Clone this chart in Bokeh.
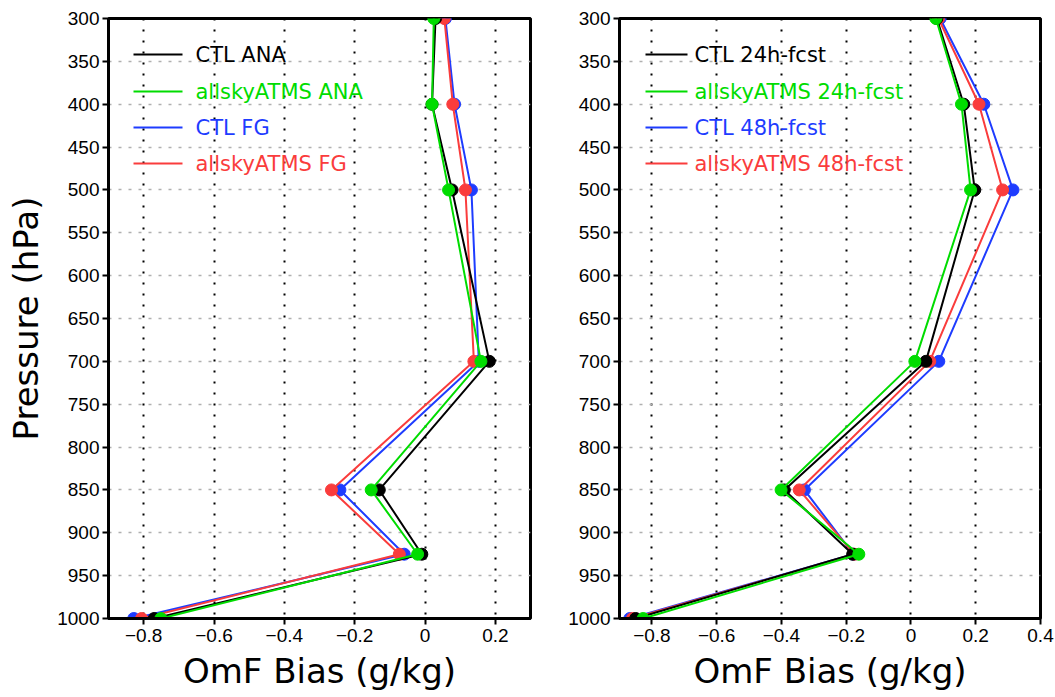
from bokeh.plotting import figure
from bokeh.models import Range1d, FixedTicker
from bokeh.layouts import row
from bokeh.embed import file_html
from bokeh.resources import INLINE
from bokeh.core.properties import value

# ---------------- data ----------------
levels = [300, 400, 500, 700, 850, 925, 1000]

# left panel: analysis / first guess
ctl_ana = [0.030, 0.020, 0.077, 0.183, -0.130, -0.009, -0.770]
sky_ana = [0.025, 0.020, 0.067, 0.159, -0.153, -0.021, -0.751]
ctl_fg = [0.058, 0.084, 0.132, 0.153, -0.242, -0.059, -0.828]
sky_fg = [0.055, 0.079, 0.115, 0.139, -0.266, -0.073, -0.806]
left_names = ["CTL ANA", "allskyATMS ANA", "CTL FG", "allskyATMS FG"]

# right panel: forecasts
ctl_24 = [0.080, 0.163, 0.197, 0.046, -0.391, -0.180, -0.850]
sky_24 = [0.077, 0.156, 0.184, 0.012, -0.401, -0.161, -0.827]
ctl_48 = [0.090, 0.225, 0.315, 0.086, -0.329, -0.178, -0.868]
sky_48 = [0.085, 0.210, 0.283, 0.058, -0.345, -0.175, -0.860]
right_names = ["CTL 24h-fcst", "allskyATMS 24h-fcst", "CTL 48h-fcst", "allskyATMS 48h-fcst"]

left_xticks = [-0.8, -0.6, -0.4, -0.2, 0, 0.2]
right_xticks = [-0.8, -0.6, -0.4, -0.2, 0, 0.2, 0.4]
yticks = [300, 350, 400, 450, 500, 550, 600, 650, 700, 750, 800, 850, 900, 950, 1000]

colors = ["#000000", "#00dc00", "#1e3cff", "#fa3c3c"]
draw_order = [2, 3, 0, 1]

x_title = "OmF Bias (g/kg)"
y_title = "Pressure (hPa)"

TICK_FONT = "Liberation Sans"
TITLE_FONT = "DejaVu Sans"

FRAME_H = 600
YMIN, YMAX = 300, 1000


def ypix_to_data(py):
    # py: pixels from frame top
    return YMIN + py / FRAME_H * (YMAX - YMIN)


def make_panel(series, names, xr, xticks, frame_w, border_l, border_r,
               leg_line, leg_text_x, with_ytitle):
    width = border_l + frame_w + border_r
    p = figure(width=width, height=697,
               x_range=Range1d(*xr), y_range=Range1d(YMAX, YMIN),
               output_backend="svg", toolbar_location=None,
               min_border_left=border_l, min_border_right=border_r,
               min_border_top=18, min_border_bottom=79)
    p.background_fill_color = "white"
    p.border_fill_color = "white"
    p.outline_line_color = "black"
    p.outline_line_width = 3

    span = xr[1] - xr[0]

    def xpix(px):
        return xr[0] + px / frame_w * span

    # axes
    p.xaxis.ticker = FixedTicker(ticks=xticks)
    p.yaxis.ticker = FixedTicker(ticks=yticks)
    p.xaxis.major_label_overrides = {t: (("%g" % t).replace("-", "\u2212")) for t in xticks}
    for ax in (p.xaxis[0], p.yaxis[0]):
        ax.axis_line_width = 3
        ax.axis_line_color = "black"
        ax.major_tick_line_width = 2
        ax.major_tick_in = 0
        ax.major_tick_out = 6
        ax.minor_tick_line_color = None
        ax.major_label_text_font = TICK_FONT
        ax.major_label_text_font_size = "19px"
        ax.major_label_text_color = "black"
        ax.axis_label_text_font = TITLE_FONT
        ax.axis_label_text_font_size = "34px"
        ax.axis_label_text_font_style = "normal"
        ax.axis_label_text_color = "black"
    p.yaxis.major_label_standoff = 3
    p.xaxis.major_label_standoff = 4
    p.xaxis.axis_label = x_title
    p.xaxis.axis_label_standoff = 6
    if with_ytitle:
        p.yaxis.axis_label = y_title
        p.yaxis.axis_label_standoff = 8

    # grid
    p.xgrid.ticker = FixedTicker(ticks=xticks)
    p.xgrid.grid_line_color = "black"
    p.xgrid.grid_line_dash = "2 9"
    p.xgrid.grid_line_width = 2
    p.ygrid.ticker = FixedTicker(ticks=yticks)
    p.ygrid.grid_line_color = "#b0b0b0"
    p.ygrid.grid_line_dash = "3 7"
    p.ygrid.grid_line_width = 1.5

    # data lines + markers
    for i in draw_order:
        p.line(series[i], levels, line_color=colors[i], line_width=2)
        p.scatter(series[i], levels, marker="circle", size=12,
                  fill_color=colors[i], line_color=colors[i])

    # legend (manual, coloured texts)
    rows_px = [36, 73, 109, 145]
    ys = [ypix_to_data(r) for r in rows_px]
    p.segment(x0=[xpix(leg_line[0])] * 4, y0=ys,
              x1=[xpix(leg_line[1])] * 4, y1=ys,
              line_color=colors, line_width=2)
    p.text(x=[xpix(leg_text_x)] * 4, y=ys, text=names, text_color=colors,
           text_font=value(TITLE_FONT), text_font_size="21px",
           text_baseline="middle", text_align="left")
    return p


p1 = make_panel([ctl_ana, sky_ana, ctl_fg, sky_fg], left_names,
                (-0.9, 0.3), left_xticks, 422, 108, 29,
                (25, 74), 87, True)
p2 = make_panel([ctl_24, sky_24, ctl_48, sky_48], right_names,
                (-0.9, 0.4), right_xticks, 421, 60, 14,
                (26, 68), 75, False)

layout = row(p1, p2)
open("out.html", "w").write(file_html(layout, INLINE))
